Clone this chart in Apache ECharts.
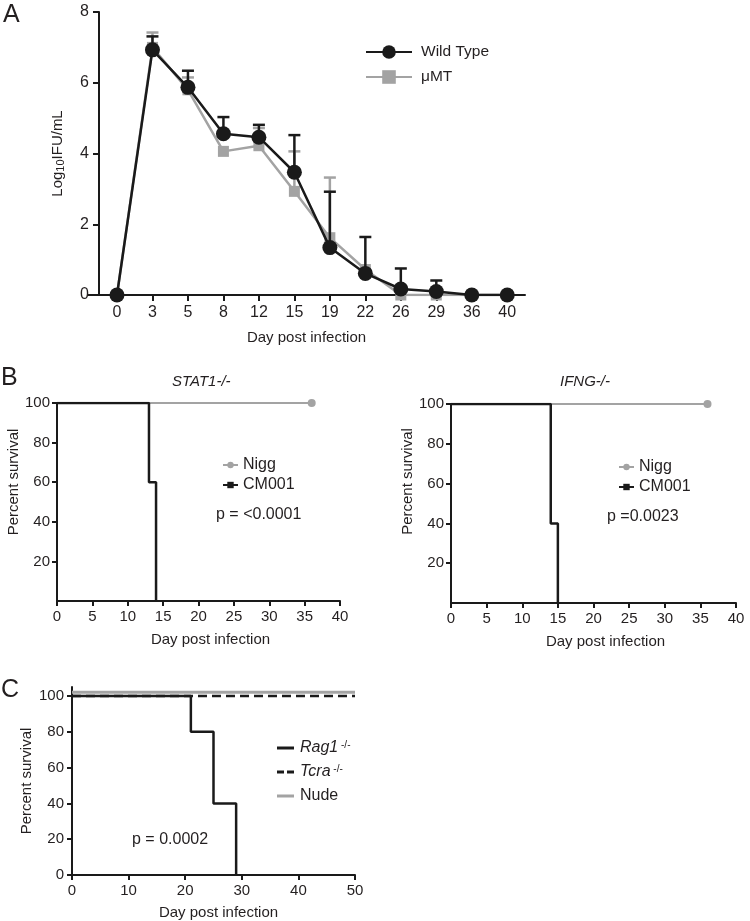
<!DOCTYPE html>
<html><head><meta charset="utf-8">
<script src="https://cdn.jsdelivr.net/npm/echarts@6/dist/echarts.min.js"></script>
<style>html,body{margin:0;padding:0;background:#fff}#c{width:750px;height:921px}</style>
</head><body><div id="c"></div>
<script>
// ---- Panel A data ----
var daysA = ['0','3','5','8','12','15','19','22','26','29','36','40'];
var wildType = [0, 6.93, 5.87, 4.56, 4.46, 3.47, 1.34, 0.61, 0.17, 0.10, 0, 0];
var wildTypeUpper = [null, 7.31, 6.34, 5.03, 4.81, 4.52, 2.92, 1.64, 0.75, 0.41, null, null];
var muMT = [0, 7.0, 5.8, 4.06, 4.22, 2.93, 1.62, 0.72, 0, 0, 0, 0];
var muMTUpper = [null, 7.42, 6.15, null, 4.72, 4.06, 3.32, null, null, null, null, null];
var ticksA_y = [0, 2, 4, 6, 8];
// ---- Panel B data (Kaplan-Meier) ----
var niggTimes = [0, 36];
var niggSurv = [100, 100];
var cmStat1Times = [0, 13, 14];
var cmStat1Surv = [100, 60, 0];
var cmIfngTimes = [0, 14, 15];
var cmIfngSurv = [100, 40, 0];
var ticksB_y = [20, 40, 60, 80, 100];
// ---- Panel C data ----
var rag1Times = [0, 21, 25, 29];
var rag1Surv = [100, 80, 40, 0];
var tcraTimes = [0, 50];
var tcraSurv = [100, 100];
var nudeTimes = [0, 50];
var nudeSurv = [102, 102];
var ticksC_y = [0, 20, 40, 60, 80, 100];

var FONT = "'Liberation Sans', Arial, sans-serif";
var TXT = '#231f20';
var GRAY = '#a3a3a3';
var BLACK = '#1a1a1a';

function pairs(xs, ys){ return xs.map(function(x,i){ return [x, ys[i]]; }); }
function errData(mean, upper){
  var out = [];
  upper.forEach(function(u,i){ if(u!=null) out.push([i, mean[i], u]); });
  return out;
}
function errRender(color){
  return function(params, api){
    var x = api.value(0), m = api.value(1), u = api.value(2);
    var p1 = api.coord([x, m]), p2 = api.coord([x, u]);
    var cw = 12;
    return {type:'group', children:[
      {type:'line', shape:{x1:p1[0],y1:p1[1],x2:p2[0],y2:p2[1]}, style:{stroke:color,lineWidth:2.5}},
      {type:'line', shape:{x1:p2[0]-cw/2,y1:p2[1],x2:p2[0]+cw/2,y2:p2[1]}, style:{stroke:color,lineWidth:2.5}}
    ]};
  };
}
function axisBase(){
  return {
    axisLine:{show:true, onZero:false, lineStyle:{color:BLACK, width:2}},
    axisTick:{show:true, inside:false, length:5, lineStyle:{color:BLACK, width:2}},
    axisLabel:{color:TXT, fontSize:15, fontFamily:FONT},
    splitLine:{show:false},
    nameTextStyle:{color:TXT, fontSize:15, fontFamily:FONT}
  };
}
function merge(a,b){ for (var k in b){ if (b[k] && typeof b[k]==='object' && !Array.isArray(b[k]) && a[k] && typeof a[k]==='object'){ merge(a[k], b[k]); } else a[k]=b[k]; } return a; }

var idxA = daysA.map(function(d,i){ return i; });

var chart = echarts.init(document.getElementById('c'), null, {renderer:'canvas'});
var option = {
  animation:false,
  backgroundColor:'#fff',
  textStyle:{fontFamily:FONT},
  grid:[
    {left:88, top:12, width:437, height:283},
    {left:57, top:403, width:283, height:198},
    {left:451, top:404, width:285, height:199},
    {left:72, top:687, width:283, height:189}
  ],
  xAxis:[
    merge(axisBase(), {gridIndex:0, type:'value', min:-0.817, max:11.5,
      name:'Day post infection', nameLocation:'middle', nameGap:35,
      axisLabel:{margin:10, fontSize:16, customValues:idxA, formatter:function(v){ return daysA[Math.round(v)]; }},
      axisTick:{customValues:idxA, length:6}}),
    merge(axisBase(), {gridIndex:1, type:'value', min:0, max:40, interval:5,
      name:'Day post infection', nameLocation:'middle', nameGap:31,
      nameTextStyle:{padding:[0,0,0,24]}, axisLabel:{margin:8}}),
    merge(axisBase(), {gridIndex:2, type:'value', min:0, max:40, interval:5,
      name:'Day post infection', nameLocation:'middle', nameGap:31,
      nameTextStyle:{padding:[0,0,0,24]}, axisLabel:{margin:8}}),
    merge(axisBase(), {gridIndex:3, type:'value', min:0, max:50, interval:10,
      name:'Day post infection', nameLocation:'middle', nameGap:30,
      nameTextStyle:{padding:[0,0,0,10]}, axisLabel:{margin:8}})
  ],
  yAxis:[
    merge(axisBase(), {gridIndex:0, type:'value', min:0, max:8, interval:2, offset:-11,
      name:'{a|Log}{b|10}{a|IFU/mL}', nameLocation:'middle', nameGap:33,
      nameTextStyle:{rich:{a:{fontSize:15, color:TXT, fontFamily:FONT}, b:{fontSize:11, color:TXT, fontFamily:FONT, verticalAlign:'bottom', padding:[6,0,0,0]}}},
      axisLabel:{margin:10, fontSize:16}, axisTick:{length:6}}),
    merge(axisBase(), {gridIndex:1, type:'value', min:0, max:100,
      name:'Percent survival', nameLocation:'middle', nameGap:36,
      nameTextStyle:{padding:[0,0,0,40]},
      axisLabel:{margin:7, customValues:ticksB_y}, axisTick:{customValues:ticksB_y}}),
    merge(axisBase(), {gridIndex:2, type:'value', min:0, max:100,
      name:'Percent survival', nameLocation:'middle', nameGap:35,
      nameTextStyle:{padding:[0,0,0,44]},
      axisLabel:{margin:7, customValues:ticksB_y}, axisTick:{customValues:ticksB_y}}),
    merge(axisBase(), {gridIndex:3, type:'value', min:0, max:105,
      name:'Percent survival', nameLocation:'middle', nameGap:38,
      axisLabel:{margin:8, customValues:ticksC_y}, axisTick:{customValues:ticksC_y}})
  ],
  legend:[
    {left:360, top:39, orient:'vertical', itemWidth:46, itemHeight:17, itemGap:9,
     data:['Wild Type','μMT'], textStyle:{fontSize:15.5, color:TXT, fontFamily:FONT, padding:[0,0,0,4]}, selectedMode:false},
    {left:217, top:452, orient:'vertical', itemWidth:15, itemHeight:8, itemGap:4,
     data:['Nigg','CM001'], textStyle:{fontSize:16, color:TXT, fontFamily:FONT}, selectedMode:false},
    {left:613, top:454, orient:'vertical', itemWidth:15, itemHeight:8, itemGap:4,
     data:['Nigg','CM001'], textStyle:{fontSize:16, color:TXT, fontFamily:FONT}, selectedMode:false},
    {left:272, top:735, orient:'vertical', itemWidth:17, itemHeight:3, itemGap:8,
     data:[
       {name:'Rag1', icon:'rect'},
       {name:'Tcra', icon:'path://M0,0h7v3h-7zM10,0h7v3h-7z'},
       {name:'Nude', icon:'rect'}
     ],
     formatter:function(n){ return n==='Nude' ? '{n|Nude}' : '{i|'+n+'}{s| -/-}'; },
     textStyle:{fontSize:16, color:TXT, fontFamily:FONT, padding:[0,0,0,1],
       rich:{n:{fontSize:16, color:TXT, fontFamily:FONT}, i:{fontSize:16, fontStyle:'italic', color:TXT, fontFamily:FONT}, s:{fontSize:10, color:TXT, fontFamily:FONT, verticalAlign:'top'}}},
     selectedMode:false}
  ],
  series:[
    // Panel A
    {type:'custom', name:'μMT err', xAxisIndex:0, yAxisIndex:0, z:1, renderItem:errRender(GRAY), data:errData(muMT, muMTUpper), encode:{x:0, y:[1,2]}},
    {type:'line', name:'μMT', xAxisIndex:0, yAxisIndex:0, z:2, data:pairs(idxA, muMT), symbol:'rect', symbolSize:11,
     lineStyle:{color:GRAY, width:2.5}, itemStyle:{color:GRAY}},
    {type:'custom', name:'WT err', xAxisIndex:0, yAxisIndex:0, z:3, renderItem:errRender(BLACK), data:errData(wildType, wildTypeUpper), encode:{x:0, y:[1,2]}},
    {type:'line', name:'Wild Type', xAxisIndex:0, yAxisIndex:0, z:4, data:pairs(idxA, wildType), symbol:'circle', symbolSize:15,
     lineStyle:{color:BLACK, width:2.5}, itemStyle:{color:BLACK}},
    // Panel B left
    {type:'line', name:'Nigg', xAxisIndex:1, yAxisIndex:1, data:pairs(niggTimes, niggSurv), symbol:'circle',
     symbolSize:function(v,p){ return p.dataIndex===niggTimes.length-1 ? 8 : 0; },
     lineStyle:{color:GRAY, width:2}, itemStyle:{color:GRAY}, z:2},
    {type:'line', name:'CM001', xAxisIndex:1, yAxisIndex:1, data:pairs(cmStat1Times, cmStat1Surv), step:'end', symbol:'rect', showSymbol:false,
     lineStyle:{color:BLACK, width:2.5}, itemStyle:{color:BLACK}, z:3},
    // Panel B right
    {type:'line', name:'Nigg', xAxisIndex:2, yAxisIndex:2, data:pairs(niggTimes, niggSurv), symbol:'circle',
     symbolSize:function(v,p){ return p.dataIndex===niggTimes.length-1 ? 8 : 0; },
     lineStyle:{color:GRAY, width:2}, itemStyle:{color:GRAY}, z:2},
    {type:'line', name:'CM001', xAxisIndex:2, yAxisIndex:2, data:pairs(cmIfngTimes, cmIfngSurv), step:'end', symbol:'rect', showSymbol:false,
     lineStyle:{color:BLACK, width:2.5}, itemStyle:{color:BLACK}, z:3},
    // Panel C
    {type:'line', name:'Nude', xAxisIndex:3, yAxisIndex:3, data:pairs(nudeTimes, nudeSurv), symbol:'none',
     lineStyle:{color:GRAY, width:3}, itemStyle:{color:GRAY}, z:2},
    {type:'line', name:'Tcra', xAxisIndex:3, yAxisIndex:3, data:pairs(tcraTimes, tcraSurv), symbol:'none',
     lineStyle:{color:BLACK, width:2.5, type:[9,5]}, itemStyle:{color:BLACK}, z:3},
    {type:'line', name:'Rag1', xAxisIndex:3, yAxisIndex:3, data:pairs(rag1Times, rag1Surv), step:'end', symbol:'none',
     lineStyle:{color:BLACK, width:2.5}, itemStyle:{color:BLACK}, z:4}
  ],
  graphic:[
    {type:'text', left:3, top:3, style:{text:'A', fontSize:25, fill:TXT, fontFamily:FONT}},
    {type:'text', left:1, top:366, style:{text:'B', fontSize:25, fill:TXT, fontFamily:FONT}},
    {type:'text', left:1, top:678, style:{text:'C', fontSize:25, fill:TXT, fontFamily:FONT}},
    {type:'text', left:172, top:374, style:{text:'STAT1-/-', fontSize:15, fontStyle:'italic', fill:TXT, fontFamily:FONT}},
    {type:'text', left:560, top:374, style:{text:'IFNG-/-', fontSize:15, fontStyle:'italic', fill:TXT, fontFamily:FONT}},
    {type:'text', left:216, top:507, style:{text:'p = <0.0001', fontSize:16, fill:TXT, fontFamily:FONT}},
    {type:'text', left:607, top:509, style:{text:'p =0.0023', fontSize:16, fill:TXT, fontFamily:FONT}},
    {type:'text', left:132, top:832, style:{text:'p = 0.0002', fontSize:16, fill:TXT, fontFamily:FONT}}
  ]
};
chart.setOption(option);
</script></body></html>
